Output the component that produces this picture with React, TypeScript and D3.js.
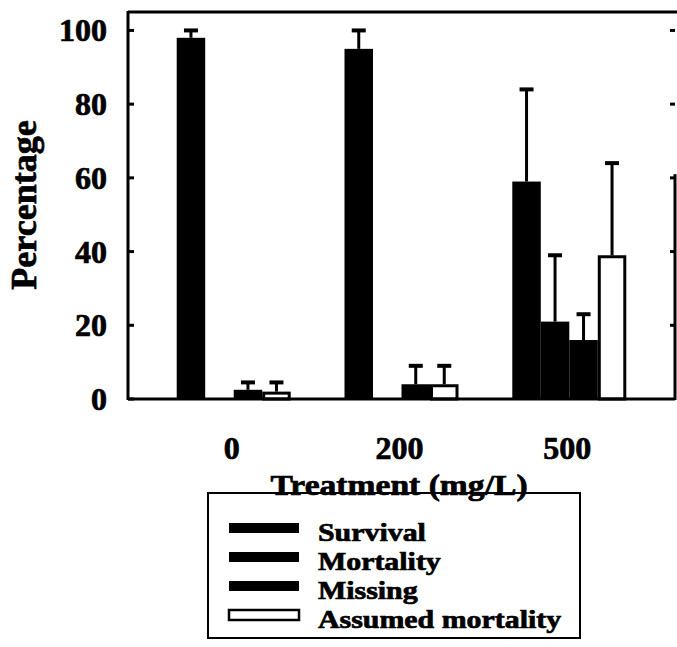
import React from "react";
import * as d3 from "d3";

const treatments = ["0", "200", "500"];
const seriesNames = ["Survival", "Mortality", "Missing", "Assumed mortality"];
const seriesFill = ["#000", "#000", "#000", "#fff"];
const survival = [98, 95, 59];
const survivalErr = [2, 5, 25];
const mortality = [0, 0, 21];
const mortalityErr = [0, 0, 18];
const missing = [2.5, 4, 16];
const missingErr = [2, 5, 7];
const assumed = [2, 4, 39];
const assumedErr = [2.5, 5, 25];
const yTicks = [0, 20, 40, 60, 80, 100];

const values = [survival, mortality, missing, assumed];
const errors = [survivalErr, mortalityErr, missingErr, assumedErr];

const W = 677;
const H = 647;
const left = 128;
const right = 675;
const top = 12;
const bottom = 399;
const FONT = "'Liberation Serif', 'Times New Roman', serif";

export default function App() {
  const y = d3.scaleLinear().domain([0, 105]).range([bottom, top]);
  const x = d3.scalePoint().domain(treatments).range([left, right]).padding(0.63);
  const sub = d3.scaleBand().domain(seriesNames).range([-57, 57]);
  const bw = sub.bandwidth();

  const bars: any[] = [];
  treatments.forEach((t, gi) => {
    seriesNames.forEach((s, si) => {
      const v = values[si][gi];
      const e = errors[si][gi];
      const x0 = (x(t) as number) + (sub(s) as number);
      const cx = x0 + bw / 2;
      if (v > 0) {
        const isWhite = seriesFill[si] === "#fff";
        bars.push(
          <rect
            key={`b-${gi}-${si}`}
            x={isWhite ? x0 + 1.5 : x0}
            y={isWhite ? y(v) + 1.5 : y(v)}
            width={isWhite ? bw - 3 : bw}
            height={isWhite ? y(0) - y(v) - 1.5 : y(0) - y(v)}
            fill={seriesFill[si]}
            stroke="#000"
            strokeWidth={isWhite ? 3 : 0}
          />
        );
      }
      if (e > 0) {
        bars.push(
          <g key={`e-${gi}-${si}`} stroke="#000" strokeWidth={3}>
            <line x1={cx} x2={cx} y1={y(v)} y2={y(v + e)} />
            <line x1={cx - 7} x2={cx + 7} y1={y(v + e)} y2={y(v + e)} strokeWidth={4} />
          </g>
        );
      }
    });
  });

  const legendY = [528, 557, 586, 615];
  const textStroke = { stroke: "#000", strokeWidth: 0.7 };
  const sx = 1.15;

  return (
    <svg
      width={W}
      height={H}
      viewBox={`0 0 ${W} ${H}`}
      style={{ position: "absolute", left: 0, top: 0, background: "#fff" }}
      fontFamily={FONT}
      fontWeight="bold"
    >
      <rect x={0} y={0} width={W} height={H} fill="#fff" />
      {bars}
      {/* frame */}
      <g stroke="#000" strokeWidth={3} fill="none">
        <line x1={left} x2={left} y1={top - 1} y2={bottom + 1} />
        <line x1={left} x2={W} y1={top} y2={top} />
        <line x1={left} x2={right} y1={bottom} y2={bottom} />
        <line x1={right} x2={right} y1={y(61)} y2={bottom + 1} />
      </g>
      {/* ticks */}
      <g stroke="#000" strokeWidth={3}>
        {yTicks.map((t) => (
          <line key={`lt${t}`} x1={left} x2={left + 6} y1={y(t)} y2={y(t)} />
        ))}
        {yTicks.filter((t) => t > 0).map((t) => (
          <line key={`rt${t}`} x1={right - 5} x2={right} y1={y(t)} y2={y(t)} />
        ))}
      </g>
      {/* y tick labels */}
      <g fontSize={32} textAnchor="end" fill="#000" {...textStroke}>
        {yTicks.map((t) => (
          <text key={`yl${t}`} x={107} y={y(t) + 11}>
            {t}
          </text>
        ))}
      </g>
      <text
        transform={`translate(36, 205) rotate(-90)`}
        textAnchor="middle"
        fontSize={36}
        fill="#000"
        {...textStroke}
      >
        Percentage
      </text>
      {/* x tick labels */}
      <g fontSize={32} textAnchor="middle" fill="#000" {...textStroke}>
        {treatments.map((t) => (
          <text key={`xl${t}`} x={(x(t) as number) - 2} y={459}>
            {t}
          </text>
        ))}
      </g>
      <g transform={`translate(399, 495) scale(1.12, 1)`}>
        <text x={0} y={0} textAnchor="middle" fontSize={30} fill="#000" {...textStroke}>
          Treatment (mg/L)
        </text>
      </g>
      {/* legend */}
      <rect x={208} y={493} width={372} height={145} fill="none" stroke="#000" strokeWidth={2} />
      {seriesNames.map((s, i) => (
        <g key={`lg${s}`}>
          <rect
            x={229}
            y={legendY[i] - 5}
            width={70}
            height={10}
            fill={seriesFill[i]}
            stroke="#000"
            strokeWidth={seriesFill[i] === "#fff" ? 2.5 : 0}
          />
          <g transform={`translate(318, ${legendY[i] + 13}) scale(${sx}, 1)`}>
            <text x={0} y={0} fontSize={26} fill="#000" {...textStroke}>
              {s}
            </text>
          </g>
        </g>
      ))}
    </svg>
  );
}
